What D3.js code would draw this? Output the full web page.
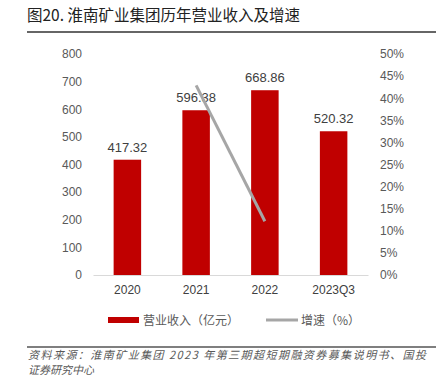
<!DOCTYPE html>
<html>
<head>
<meta charset="utf-8">
<script src="https://cdn.jsdelivr.net/npm/d3@7"></script>
<style>
  body { margin: 0; background: #fff; }
  svg { display: block; font-family: "Liberation Sans", Arial, sans-serif; }
</style>
</head>
<body>
<div id="chart"></div>
<script>
// data
var categories = ["2020", "2021", "2022", "2023Q3"];
var revenue = [417.32, 596.38, 668.86, 520.32];
var growthCats = ["2021", "2022"];
var growth = [42.9, 12.15];
var leftTicks = [0, 100, 200, 300, 400, 500, 600, 700, 800];
var rightTicks = [0, 5, 10, 15, 20, 25, 30, 35, 40, 45, 50];

function renderChart() {
    var width = 436, height = 377;
    var cjk = '"Noto Sans CJK SC", sans-serif';

    var svg = d3.select("#chart")
        .append("svg")
        .attr("width", width)
        .attr("height", height);

    // title + rule under it
    svg.append("text")
        .attr("x", 27)
        .attr("y", 21)
        .style("font-family", cjk)
        .style("font-size", "15.5px")
        .style("font-weight", "400")
        .style("fill", "#222")
        .text("图20. 淮南矿业集团历年营业收入及增速");
    svg.append("line")
        .attr("x1", 27).attr("x2", 436)
        .attr("y1", 32).attr("y2", 32)
        .style("stroke", "#333")
        .style("stroke-width", 1.6);

    // plot area
    var plotLeft = 93, plotRight = 368, plotTop = 54, plotBottom = 275;

    var x = d3.scaleBand()
        .domain(categories)
        .range([plotLeft, plotRight])
        .paddingInner(0.6)
        .paddingOuter(0.3);

    var y = d3.scaleLinear()
        .domain([0, 800])
        .range([plotBottom, plotTop]);

    var y2 = d3.scaleLinear()
        .domain([0, 50])
        .range([plotBottom, plotTop]);

    // left axis labels
    var yAxis = svg.append("g")
        .attr("transform", "translate(" + (plotLeft - 2) + ",0)")
        .call(d3.axisLeft(y).tickValues(leftTicks).tickSize(0).tickPadding(9).tickFormat(d3.format("d")));
    yAxis.select(".domain").remove();
    yAxis.selectAll("text").style("font-size", "12px").style("fill", "#595959");

    // right axis labels
    var y2Axis = svg.append("g")
        .attr("transform", "translate(" + (plotRight + 2) + ",0)")
        .call(d3.axisRight(y2).tickValues(rightTicks).tickSize(0).tickPadding(10).tickFormat(function (d) { return d + "%"; }));
    y2Axis.select(".domain").remove();
    y2Axis.selectAll("text").style("font-size", "12px").style("fill", "#595959");

    // bars
    svg.selectAll("rect.bar")
        .data(revenue)
        .enter()
        .append("rect")
        .attr("class", "bar")
        .attr("x", function (d, i) { return x(categories[i]); })
        .attr("y", function (d) { return y(d); })
        .attr("width", x.bandwidth())
        .attr("height", function (d) { return plotBottom - y(d); })
        .style("fill", "#c00000");

    // bar value labels
    svg.selectAll("text.val")
        .data(revenue)
        .enter()
        .append("text")
        .attr("class", "val")
        .attr("x", function (d, i) { return x(categories[i]) + x.bandwidth() / 2; })
        .attr("y", function (d) { return y(d) - 8; })
        .attr("text-anchor", "middle")
        .style("font-size", "13px")
        .style("fill", "#404040")
        .text(function (d) { return d.toFixed(2); });

    // x axis
    var xAxis = svg.append("g")
        .attr("transform", "translate(0," + plotBottom + ")")
        .call(d3.axisBottom(x).tickSize(0).tickPadding(10));
    xAxis.select(".domain").style("stroke", "#d9d9d9");
    xAxis.selectAll("text").style("font-size", "12px").style("fill", "#404040");

    // growth line
    var line = d3.line()
        .x(function (d, i) { return x(growthCats[i]) + x.bandwidth() / 2; })
        .y(function (d) { return y2(d); });
    svg.append("path")
        .datum(growth)
        .attr("d", line)
        .style("fill", "none")
        .style("stroke", "#a6a6a6")
        .style("stroke-width", 3);

    // legend
    var legend = svg.append("g").attr("transform", "translate(0,320)");
    legend.append("rect")
        .attr("x", 108).attr("y", -3)
        .attr("width", 31).attr("height", 6)
        .style("fill", "#c00000");
    legend.append("text")
        .attr("x", 143).attr("y", 4.5)
        .style("font-family", cjk)
        .style("font-size", "12px")
        .style("fill", "#595959")
        .text("营业收入（亿元）");
    legend.append("line")
        .attr("x1", 266).attr("x2", 298)
        .attr("y1", 0).attr("y2", 0)
        .style("stroke", "#a6a6a6")
        .style("stroke-width", 3);
    legend.append("text")
        .attr("x", 301).attr("y", 4.5)
        .style("font-family", cjk)
        .style("font-size", "12px")
        .style("fill", "#595959")
        .text("增速（%）");

    // source note
    svg.append("line")
        .attr("x1", 27).attr("x2", 436)
        .attr("y1", 347).attr("y2", 347)
        .style("stroke", "#555")
        .style("stroke-width", 1.6);
    var src = svg.append("text")
        .style("font-family", cjk)
        .style("font-size", "11px")
        .style("font-style", "italic")
        .style("fill", "#595959");
    src.append("tspan").attr("x", 28).attr("y", 359)
        .attr("textLength", 398).attr("lengthAdjust", "spacing")
        .text("资料来源：淮南矿业集团 2023 年第三期超短期融资券募集说明书、国投");
    src.append("tspan").attr("x", 28).attr("y", 373.5)
        .text("证券研究中心");
}
renderChart();
</script>
</body>
</html>
